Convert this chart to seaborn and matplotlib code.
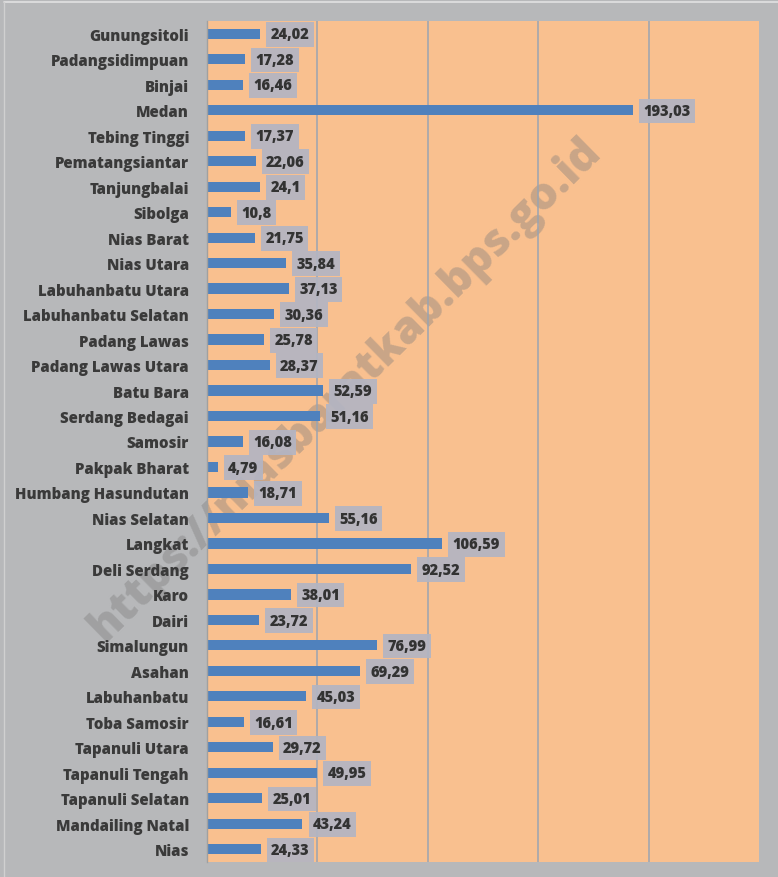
import matplotlib
matplotlib.use('Agg')
import matplotlib.pyplot as plt
import seaborn as sns
import pandas as pd
from matplotlib.lines import Line2D

kabupaten = ['Gunungsitoli', 'Padangsidimpuan', 'Binjai', 'Medan', 'Tebing Tinggi',
             'Pematangsiantar', 'Tanjungbalai', 'Sibolga', 'Nias Barat', 'Nias Utara',
             'Labuhanbatu Utara', 'Labuhanbatu Selatan', 'Padang Lawas', 'Padang Lawas Utara',
             'Batu Bara', 'Serdang Bedagai', 'Samosir', 'Pakpak Bharat', 'Humbang Hasundutan',
             'Nias Selatan', 'Langkat', 'Deli Serdang', 'Karo', 'Dairi', 'Simalungun',
             'Asahan', 'Labuhanbatu', 'Toba Samosir', 'Tapanuli Utara', 'Tapanuli Tengah',
             'Tapanuli Selatan', 'Mandailing Natal', 'Nias']
nilai = [24.02, 17.28, 16.46, 193.03, 17.37, 22.06, 24.1, 10.8, 21.75, 35.84,
         37.13, 30.36, 25.78, 28.37, 52.59, 51.16, 16.08, 4.79, 18.71, 55.16,
         106.59, 92.52, 38.01, 23.72, 76.99, 69.29, 45.03, 16.61, 29.72, 49.95,
         25.01, 43.24, 24.33]
label_nilai = [f'{v:g}'.replace('.', ',') for v in nilai]
grid_x = [50, 100, 150, 200]

df = pd.DataFrame({'kab': kabupaten, 'nilai': nilai})

sns.set_theme(style='white')
plt.rcParams['font.family'] = ['Open Sans', 'DejaVu Sans']
plt.rcParams['axes.axisbelow'] = True

fig = plt.figure(figsize=(7.78, 8.78), dpi=100, facecolor='#B7B8BA')
ax = fig.add_axes([207/778, 15/878, 552/778, 841/878])
ax.set_facecolor('#F9C08F')

sns.barplot(data=df, x='nilai', y='kab', orient='h', color='#4F81BD',
            saturation=1, width=0.4, ax=ax)
for p in ax.patches:
    p.set_edgecolor('none')

ax.set_xlim(0, 250)
ax.set_ylim(len(kabupaten) - 0.5, -0.5)
ax.set_xlabel('')
ax.set_ylabel('')
ax.set_xticks(grid_x)
ax.set_xticklabels([])
ax.tick_params(axis='x', length=0)
ax.xaxis.grid(True, color='#9AA4B2', linewidth=1.1)

ax.set_yticks(range(len(kabupaten)))
ax.set_yticklabels(kabupaten, fontsize=10.8, fontweight=800, color='#3A3A3A')
ax.set_yticks([i + 0.5 for i in range(-1, len(kabupaten))], minor=True)
ax.tick_params(axis='y', which='major', length=0, pad=13)
ax.tick_params(axis='y', which='minor', length=4, width=1, color='#A0A0A0')

for s in ['top', 'right', 'bottom']:
    ax.spines[s].set_visible(False)
ax.spines['left'].set_color('#A0A0A0')
ax.spines['left'].set_linewidth(1)

for i, (v, t) in enumerate(zip(nilai, label_nilai)):
    ax.annotate(t, (v, i), xytext=(7.5, -0.5), textcoords='offset points',
                ha='left', va='center', fontsize=10.5, fontweight=800,
                color='#333333', zorder=5,
                bbox=dict(boxstyle='square,pad=0.3', fc='#B3B5C3', ec='none', alpha=0.92))

ax.text(0.443, 0.556, 'https://niasbaratkab.bps.go.id', transform=fig.transFigure,
        rotation=44.5, rotation_mode='anchor', ha='center', va='center',
        fontsize=32, fontweight=800, color='#7A7A7A', alpha=0.38,
        zorder=0.3, clip_on=False)

fig.add_artist(Line2D([4/778, 1], [1 - 3/878, 1 - 3/878], color='#E2E2E2', lw=1.2,
                      transform=fig.transFigure))
fig.add_artist(Line2D([4/778, 4/778], [0, 1 - 3/878], color='#D0D0D0', lw=1.0,
                      transform=fig.transFigure))

fig.savefig('out.png', dpi=100, facecolor=fig.get_facecolor())
